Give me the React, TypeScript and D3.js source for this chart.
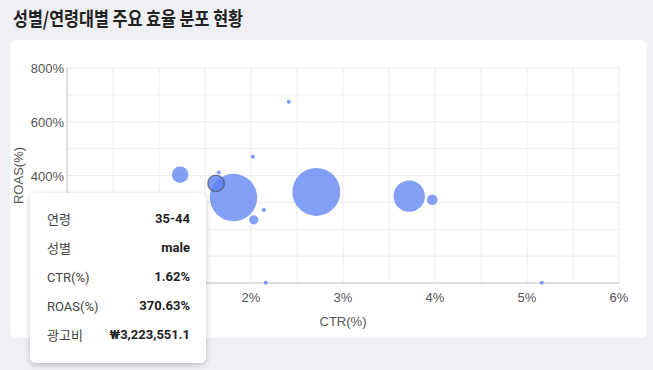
import * as d3 from "d3";
import React from "react";

// bubble data
const ctr = [1.23, 1.65, 1.62, 1.81, 2.02, 2.14, 2.03, 2.16, 2.71, 3.72, 3.97, 2.41, 5.16];
const roas = [403, 411, 370.63, 318, 470, 272, 235, 1, 339, 323, 310, 674, 1];
const spend = [3200000, 200000, 3223551.1, 26300000, 200000, 200000, 1000000, 200000, 27000000, 11500000, 1300000, 200000, 200000];

const xTicks = [0, 1, 2, 3, 4, 5, 6];
const yTicks = [0, 200, 400, 600, 800];
const highlighted = 2;

const tipLabels = ["연령", "성별", "CTR(%)", "ROAS(%)", "광고비"];
const tipValues = ["35-44", "male", "1.62%", "370.63%", "₩3,223,551.1"];

const W = 653, H = 370;
const margin = { top: 68, right: 34, bottom: 87, left: 67 };

export default function App() {
  const x = d3.scaleLinear().domain([0, 6]).range([margin.left, W - margin.right]);
  const y = d3.scaleLinear().domain([0, 800]).range([H - margin.bottom, margin.top]);
  const r = d3.scaleSqrt().domain([0, 27000000]).range([0, 24]);

  const xGrid = d3.range(0, 6.01, 0.5);
  const yGrid = d3.range(0, 801, 100);

  const idx = d3.range(ctr.length).filter(i => i !== highlighted)
    .sort((a, b) => spend[b] - spend[a]);

  const axisFont = "'Liberation Sans', Arial, sans-serif";
  const tipFont = "Roboto, 'Noto Sans CJK KR', sans-serif";

  return <div style={{ position: 'fixed', left: 0, top: 0 }}>
    <svg width={W} height={H} style={{ display: 'block' }}>
      <defs>
        <filter id="shadow" x="-20%" y="-20%" width="140%" height="140%">
          <feDropShadow dx="0" dy="2" stdDeviation="3" floodColor="#000" floodOpacity="0.22" />
        </filter>
      </defs>
      <rect width={W} height={H} fill="#eef0f3" />
      <text x={13} y={26} fontSize={19} fontWeight="bold" fill="#222"
        fontFamily="'Noto Sans CJK KR', sans-serif" textLength={230} lengthAdjust="spacingAndGlyphs">
        성별/연령대별 주요 효율 분포 현황
      </text>
      <rect x={10.5} y={40} width={636} height={298} rx={6} fill="#fff" />

      {xGrid.map(v => <line key={'gx' + v} x1={x(v)} x2={x(v)} y1={y(800)} y2={y(0)} stroke="#ececec" />)}
      {yGrid.map(v => <line key={'gy' + v} x1={x(0)} x2={x(6)} y1={y(v)} y2={y(v)} stroke="#ececec" />)}
      <line x1={x(0)} x2={x(0)} y1={y(800)} y2={y(0)} stroke="#c8c8c8" />
      <line x1={x(0)} x2={x(6)} y1={y(0)} y2={y(0)} stroke="#c8c8c8" />

      {yTicks.map(v => <text key={'yt' + v} x={x(0) - 3} y={y(v) + 5} textAnchor="end"
        fontSize={13} fill="#555" fontFamily={axisFont}>{v}%</text>)}
      {xTicks.map(v => <text key={'xt' + v} x={x(v)} y={y(0) + 19} textAnchor="middle"
        fontSize={13} fill="#555" fontFamily={axisFont}>{v}%</text>)}
      <text x={(x(0) + x(6)) / 2} y={326} textAnchor="middle" fontSize={13} fill="#555"
        fontFamily={axisFont}>CTR(%)</text>
      <text transform={`translate(23,${(y(0) + y(800)) / 2}) rotate(-90)`} textAnchor="middle"
        fontSize={13} fill="#555" fontFamily={axisFont}>ROAS(%)</text>

      {idx.map(i => <circle key={'b' + i} cx={x(ctr[i])} cy={y(roas[i])} r={Math.max(2, r(spend[i]))}
        fill="#5b7ff3" fillOpacity={0.75} />)}
      <circle cx={x(ctr[highlighted])} cy={y(roas[highlighted])} r={Math.max(2, r(spend[highlighted]))}
        fill="#5b7ff3" fillOpacity={0.8} stroke="#444" strokeOpacity={0.6} strokeWidth={1.3} />

      <g transform="translate(30,193)">
        <rect width={176} height={170} rx={6} fill="#fff" filter="url(#shadow)" />
        {tipLabels.map((l, i) => <g key={'tip' + i} transform={`translate(0,${26 + i * 29})`}>
          <text x={17} y={5} fontSize={13} fill="#444" fontFamily={tipFont}>{l}</text>
          <text x={160} y={4} fontSize={13} fontWeight="bold" fill="#222" textAnchor="end"
            fontFamily={tipFont}>{tipValues[i]}</text>
        </g>)}
      </g>
    </svg>
  </div>;
}
